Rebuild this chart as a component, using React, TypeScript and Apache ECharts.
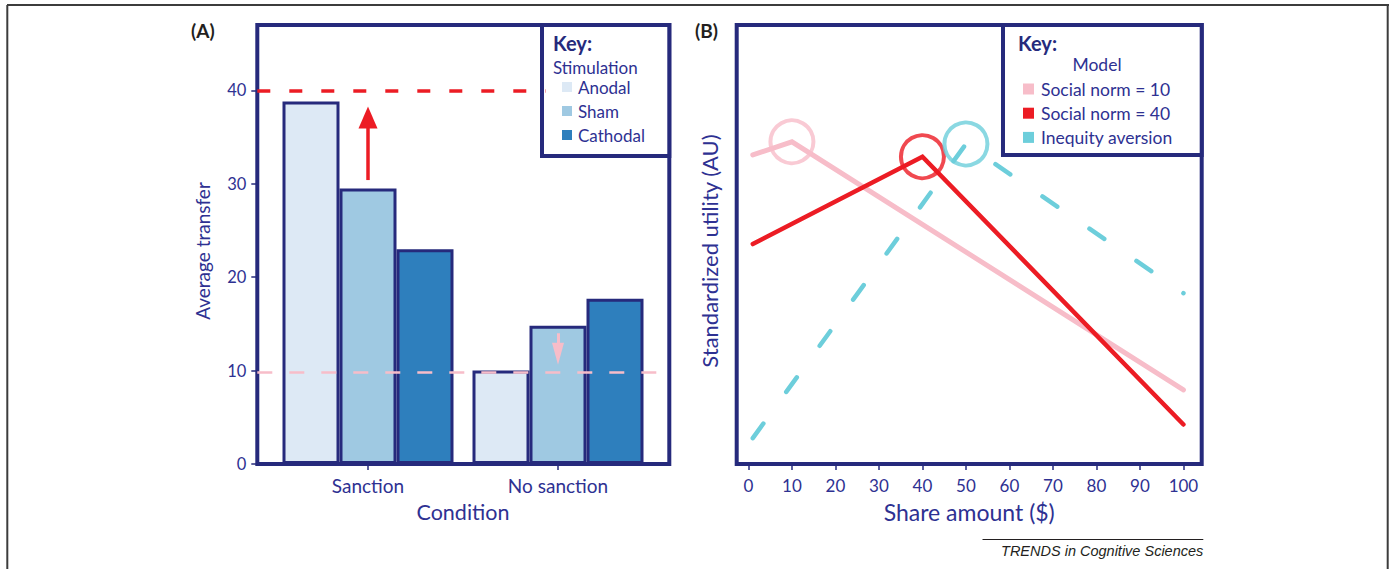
import React, { useEffect, useRef } from 'react';
import * as echarts from 'echarts';

// ---------- Panel A data ----------
const conditions = ['Sanction', 'No sanction'];
const stimulation = ['Anodal', 'Sham', 'Cathodal'];
const anodal = [38.8, 10.0];
const sham = [29.5, 14.8];
const cathodal = [23.0, 17.7];
const transferTicks = [0, 10, 20, 30, 40];
const sanctionLevel = 40;
const noSanctionLevel = 9.8;
const redArrow = [30.4, 37.1]; // from -> to (Sanction)
const pinkArrow = [14.0, 11.8]; // from -> to (No sanction)

// ---------- Panel B data ----------
const shareTicks = [0, 10, 20, 30, 40, 50, 60, 70, 80, 90, 100];
const models = ['Social norm = 10', 'Social norm = 40', 'Inequity aversion'];
const norm10 = [[1, 70.4], [10, 73.4], [100, 16.9]];
const norm40 = [[1, 50.1], [40, 70.0], [100, 9.0]];
const inequity = [[1, 5.9], [50, 72.9], [100, 38.9]];
const peaks = [[10, 73.4], [40, 70.0], [50, 72.9]];

const NAVY = '#262a7c';
const TEXT = '#2e3192';
const FONT = 'Lato, "Noto Sans", sans-serif';
const stimColors = ['#dde9f5', '#9fc9e2', '#2e7fbd'];
const modelColors = ['#f7bdc9', '#ec1c24', '#6dcedb'];

export default function App() {
  const ref = useRef<HTMLDivElement>(null);
  useEffect(() => {
    if (!ref.current) return;
    const chart = echarts.init(ref.current, null, { renderer: 'svg' });
    const txt = (size: number, extra: any = {}) => ({ color: TEXT, fontSize: size, fontFamily: FONT, ...extra });

    const option: any = {
      animation: false,
      backgroundColor: '#ffffff',
      grid: [
        { left: 257.3, top: 25, width: 412, height: 439, show: true, borderColor: NAVY, borderWidth: 4, backgroundColor: 'transparent' },
        { left: 273, top: 25, width: 380, height: 439 },
        { left: 736.7, top: 25, width: 465, height: 439, show: true, borderColor: NAVY, borderWidth: 4, backgroundColor: 'transparent' },
      ],
      xAxis: [
        { gridIndex: 0, type: 'value', min: 0, max: 1, show: false },
        {
          gridIndex: 1, type: 'category', data: conditions,
          axisLine: { show: false },
          axisTick: { show: true, alignWithLabel: true, length: 6, lineStyle: { color: NAVY, width: 1.5 } },
          axisLabel: { ...txt(19), margin: 12 },
          name: 'Condition', nameLocation: 'middle', nameGap: 37, nameTextStyle: txt(21.5),
        },
        {
          gridIndex: 2, type: 'value', min: -2.7, max: 104.2,
          axisLine: { show: false }, splitLine: { show: false },
          axisTick: { show: true, customValues: shareTicks, length: 6, lineStyle: { color: NAVY, width: 1.5 } },
          axisLabel: { ...txt(17), customValues: shareTicks, margin: 13 },
          name: 'Share amount ($)', nameLocation: 'middle', nameGap: 36, nameTextStyle: txt(23),
        },
      ],
      yAxis: [
        {
          gridIndex: 0, type: 'value', min: 0, max: 47,
          axisLine: { show: false }, splitLine: { show: false },
          axisTick: { show: true, customValues: transferTicks, length: 6, lineStyle: { color: NAVY, width: 1.5 } },
          axisLabel: { ...txt(16.5), customValues: transferTicks, margin: 11 },
          name: 'Average transfer', nameLocation: 'middle', nameGap: 45,
          nameTextStyle: txt(19, { padding: [0, 13, 0, 0] }),
        },
        { gridIndex: 1, type: 'value', min: 0, max: 47, show: false },
        {
          gridIndex: 2, type: 'value', min: 0, max: 100,
          axisLine: { show: false }, splitLine: { show: false }, axisTick: { show: false }, axisLabel: { show: false },
          name: 'Standardized utility (AU)', nameLocation: 'middle', nameGap: 16,
          nameTextStyle: txt(22, { padding: [0, 13, 0, 0] }),
        },
      ],
      legend: [
        {
          data: stimulation, orient: 'vertical', left: 557, top: 73.5,
          itemWidth: 10, itemHeight: 10, itemGap: 7, icon: 'rect', selectedMode: false,
          itemStyle: { borderWidth: 0 },
          textStyle: txt(17, { padding: [0, 0, 0, 1] }),
        },
        {
          data: models, orient: 'vertical', left: 1018, top: 75,
          itemWidth: 11, itemHeight: 11, itemGap: 6.2, icon: 'rect', selectedMode: false,
          itemStyle: { borderWidth: 0 },
          textStyle: txt(17.5, { padding: [0, 0, 0, 2] }),
        },
      ],
      series: [
        ...[anodal, sham, cathodal].map((vals, i) => ({
          type: 'bar', name: stimulation[i], xAxisIndex: 1, yAxisIndex: 1,
          data: vals, barWidth: 57, barGap: '0%',
          itemStyle: { color: stimColors[i], borderColor: NAVY, borderWidth: 3 },
          emphasis: { disabled: true },
          ...(i === 1 ? {
            markLine: {
              silent: true, symbol: ['none', 'triangle'], label: { show: false },
              emphasis: { disabled: true },
              data: [
                [
                  { coord: [conditions[0], redArrow[0]], lineStyle: { color: modelColors[1], width: 3.5, type: 'solid' }, symbolSize: [19, 22] },
                  { coord: [conditions[0], redArrow[1]], symbolSize: [19, 22] },
                ],
                [
                  { coord: [conditions[1], pinkArrow[0]], lineStyle: { color: modelColors[0], width: 3, type: 'solid' }, symbolSize: [12, 22] },
                  { coord: [conditions[1], pinkArrow[1]], symbolSize: [12, 22] },
                ],
              ],
            },
          } : {}),
        })),
        {
          type: 'line', name: 'levels', xAxisIndex: 0, yAxisIndex: 0, z: 5,
          data: [], showSymbol: false,
          markLine: {
            silent: true, symbol: ['none', 'none'], label: { show: false }, emphasis: { disabled: true },
            data: [
              [
                { coord: [0, sanctionLevel], lineStyle: { color: modelColors[1], width: 3.5, type: [13, 19] } },
                { coord: [0.7, sanctionLevel] },
              ],
              [
                { coord: [0, noSanctionLevel], lineStyle: { color: modelColors[0], width: 2.5, type: [15, 17] } },
                { coord: [1, noSanctionLevel] },
              ],
            ],
          },
        },
        ...[norm10, norm40, inequity].map((pts, i) => ({
          type: 'line', name: models[i], xAxisIndex: 2, yAxisIndex: 2,
          data: pts, showSymbol: false, z: 3 + i,
          itemStyle: { color: modelColors[i] },
          lineStyle: {
            color: modelColors[i], width: i === 0 ? 5 : 4.5, cap: 'round', join: 'miter',
            type: i === 2 ? [18, 39] : 'solid',
          },
          emphasis: { disabled: true },
        })),
        {
          type: 'scatter', name: 'peaks', xAxisIndex: 2, yAxisIndex: 2, z: 6,
          symbolSize: 43,
          data: peaks.map((p, i) => ({ value: p, itemStyle: { color: 'rgba(0,0,0,0)', borderColor: modelColors[i], borderWidth: 4 } })),
          emphasis: { disabled: true },
        },
      ],
      graphic: [
        { type: 'line', shape: { x1: 7, y1: 5, x2: 1389, y2: 5 }, style: { stroke: '#3c3c3c', lineWidth: 2 }, z: 10 },
        { type: 'line', shape: { x1: 7.3, y1: 5, x2: 7.3, y2: 569 }, style: { stroke: '#3c3c3c', lineWidth: 2 }, z: 10 },
        { type: 'line', shape: { x1: 1387.7, y1: 5, x2: 1387.7, y2: 569 }, style: { stroke: '#3c3c3c', lineWidth: 2 }, z: 10 },
        { type: 'rect', shape: { x: 542, y: 25, width: 127.3, height: 131 }, style: { fill: '#fff', stroke: NAVY, lineWidth: 4 }, z: 3 },
        { type: 'rect', shape: { x: 1003, y: 25, width: 198.7, height: 130 }, style: { fill: '#fff', stroke: NAVY, lineWidth: 4 }, z: 3 },
        { type: 'text', x: 191, y: 30, style: { text: '(A)', fill: '#231f20', font: `bold 19px ${FONT}`, verticalAlign: 'middle' }, z: 10 },
        { type: 'text', x: 695, y: 30, style: { text: '(B)', fill: '#231f20', font: `bold 19px ${FONT}`, verticalAlign: 'middle' }, z: 10 },
        { type: 'text', x: 553, y: 43, style: { text: 'Key:', fill: NAVY, font: `bold 20px ${FONT}`, verticalAlign: 'middle' }, z: 10 },
        { type: 'text', x: 553, y: 67, style: { text: 'Stimulation', fill: TEXT, font: `17px ${FONT}`, verticalAlign: 'middle' }, z: 10 },
        { type: 'text', x: 1018, y: 43, style: { text: 'Key:', fill: NAVY, font: `bold 20px ${FONT}`, verticalAlign: 'middle' }, z: 10 },
        { type: 'text', x: 1097, y: 64.5, style: { text: 'Model', fill: TEXT, font: `17.5px ${FONT}`, align: 'center', verticalAlign: 'middle' }, z: 10 },
        { type: 'line', shape: { x1: 982.5, y1: 539.5, x2: 1203.3, y2: 539.5 }, style: { stroke: '#231f20', lineWidth: 1 }, z: 10 },
        { type: 'text', x: 1203.3, y: 550.5, style: { text: 'TRENDS in Cognitive Sciences', fill: '#231f20', font: `italic 14.5px "Liberation Sans", Arial, sans-serif`, align: 'right', verticalAlign: 'middle' }, z: 10 },
      ],
    };
    chart.setOption(option);
    return () => chart.dispose();
  }, []);
  return <div ref={ref} style={{ position: 'absolute', left: 0, top: 0, width: 1389, height: 569 }} />;
}
